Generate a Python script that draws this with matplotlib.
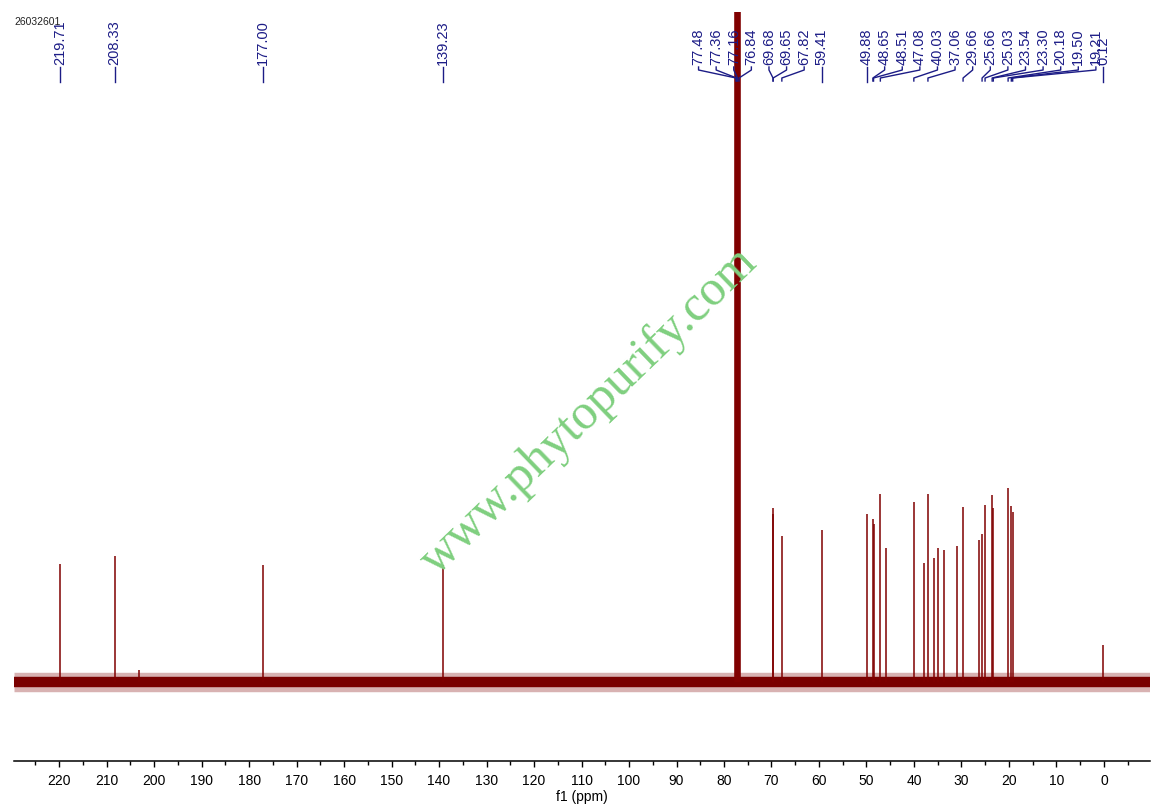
import matplotlib
matplotlib.use("Agg")
import matplotlib.pyplot as plt
from matplotlib.transforms import blended_transform_factory

plt.rcParams['font.family'] = ['Liberation Sans', 'DejaVu Sans']

# ---- spectrum data (ppm, relative intensity) ----
peak_ppm = [219.71, 208.33, 203.2, 177.00, 139.23,
            69.68, 69.65, 67.82, 59.41, 49.88, 48.65, 48.51, 47.08, 45.85,
            40.03, 37.8, 37.06, 35.8, 34.85, 33.65, 30.97, 29.66, 26.4,
            25.66, 25.03, 23.54, 23.30, 20.18, 19.50, 19.21, 0.12]
peak_height = [118, 126, 12, 117, 117,
               174, 168, 146, 152, 168, 163, 158, 188, 134,
               180, 119, 188, 124, 134, 132, 136, 175, 142,
               148, 177, 187, 174, 194, 176, 170, 37]

# CDCl3 solvent lines (run off the top of the plot)
solvent_ppm = [77.48, 77.36, 77.16, 76.84]
solvent_height = [670, 670, 670, 670]

baseline_ppm = [229.5, -9.7]
baseline_val = [0, 0]

# picked peak labels
label_ppm = [219.71, 208.33, 177.00, 139.23,
             77.48, 77.36, 77.16, 76.84, 69.68, 69.65, 67.82, 59.41,
             49.88, 48.65, 48.51, 47.08, 40.03, 37.06, 29.66, 25.66, 25.03,
             23.54, 23.30, 20.18, 19.50, 19.21, 0.12]

sample_id = "26032601"
watermark = "www.phytopurify.com"

# ---- layout ----
W, H = 1155, 811
AX_BOTTOM_PX = 761          # pixel row of the ppm axis line
red = '#800000'
navy = '#1c1c86'

fig = plt.figure(figsize=(W / 100, H / 100), dpi=100)
ax = fig.add_axes([14 / W, (H - AX_BOTTOM_PX) / H, 1136 / W, AX_BOTTOM_PX / H])
ax.set_xlim(229.5, -9.7)
ax.set_ylim(-79, 682)


def yf(px):
    # pixel row (from top) -> axes fraction
    return (AX_BOTTOM_PX - px) / AX_BOTTOM_PX


# baseline noise band
ax.plot(baseline_ppm, baseline_val, color=red, linewidth=14, alpha=0.3,
        solid_capstyle='butt')
ax.plot(baseline_ppm, baseline_val, color='#7a0000', linewidth=7.5,
        solid_capstyle='butt')

# peaks
ax.vlines(peak_ppm, 0, peak_height, color=red, linewidth=1.1)
ax.vlines(solvent_ppm, 0, solvent_height, color=red, linewidth=2.6)

# ---- peak labels ----
spacing = 17.6 / 4.748      # label slot width in ppm


def groups(vals, gap=9.0):
    out = [[vals[0]]]
    for v in vals[1:]:
        if out[-1][-1] - v < gap:
            out[-1].append(v)
        else:
            out.append([v])
    return out


anchor_right = {59.41}       # groups packed leftwards from their last label
trans = blended_transform_factory(ax.transData, ax.transAxes)

for g in groups(label_ppm):
    n = len(g)
    if g[-1] in anchor_right:
        slots = [g[-1] + (n - 1 - i) * spacing for i in range(n)]
    else:
        slots = [g[0] - i * spacing for i in range(n)]
    for p, lx in zip(g, slots):
        ax.text(lx, yf(65), f"{p:.2f}", rotation=90, ha='center', va='bottom',
                fontsize=10.5, color=navy, transform=trans)
        if abs(lx - p) < 0.3:
            xs, ys = [p, p], [yf(67), yf(82)]
        else:
            xs = [lx, lx, p, p]
            ys = [yf(67), yf(70), yf(78), yf(81)]
        ax.plot(xs, ys, color=navy, linewidth=1.0, transform=trans,
                clip_on=False)

# ---- axis styling ----
for s in ['left', 'right', 'top']:
    ax.spines[s].set_visible(False)
ax.spines['bottom'].set_linewidth(1.1)
ax.set_yticks([])
ax.set_xticks(range(220, -1, -10))
ax.set_xticks(range(225, -10, -10), minor=True)
ax.tick_params(axis='x', which='major', length=4.5, width=1.0, pad=5,
               labelsize=10)
ax.tick_params(axis='x', which='minor', length=3, width=1.0)
ax.set_xlabel("f1 (ppm)", fontsize=10, labelpad=1.5)

fig.text(14 / W, 1 - 22 / H, sample_id, fontsize=7.5, color='#222222',
         ha='left', va='center')

fig.text(589 / W, 1 - 411 / H, watermark, rotation=44, rotation_mode='anchor',
         ha='center', va='center', fontsize=36, color='#7fcf7f',
         family=['Liberation Serif', 'DejaVu Serif'])

fig.savefig("out.png", dpi=100, facecolor='white')
